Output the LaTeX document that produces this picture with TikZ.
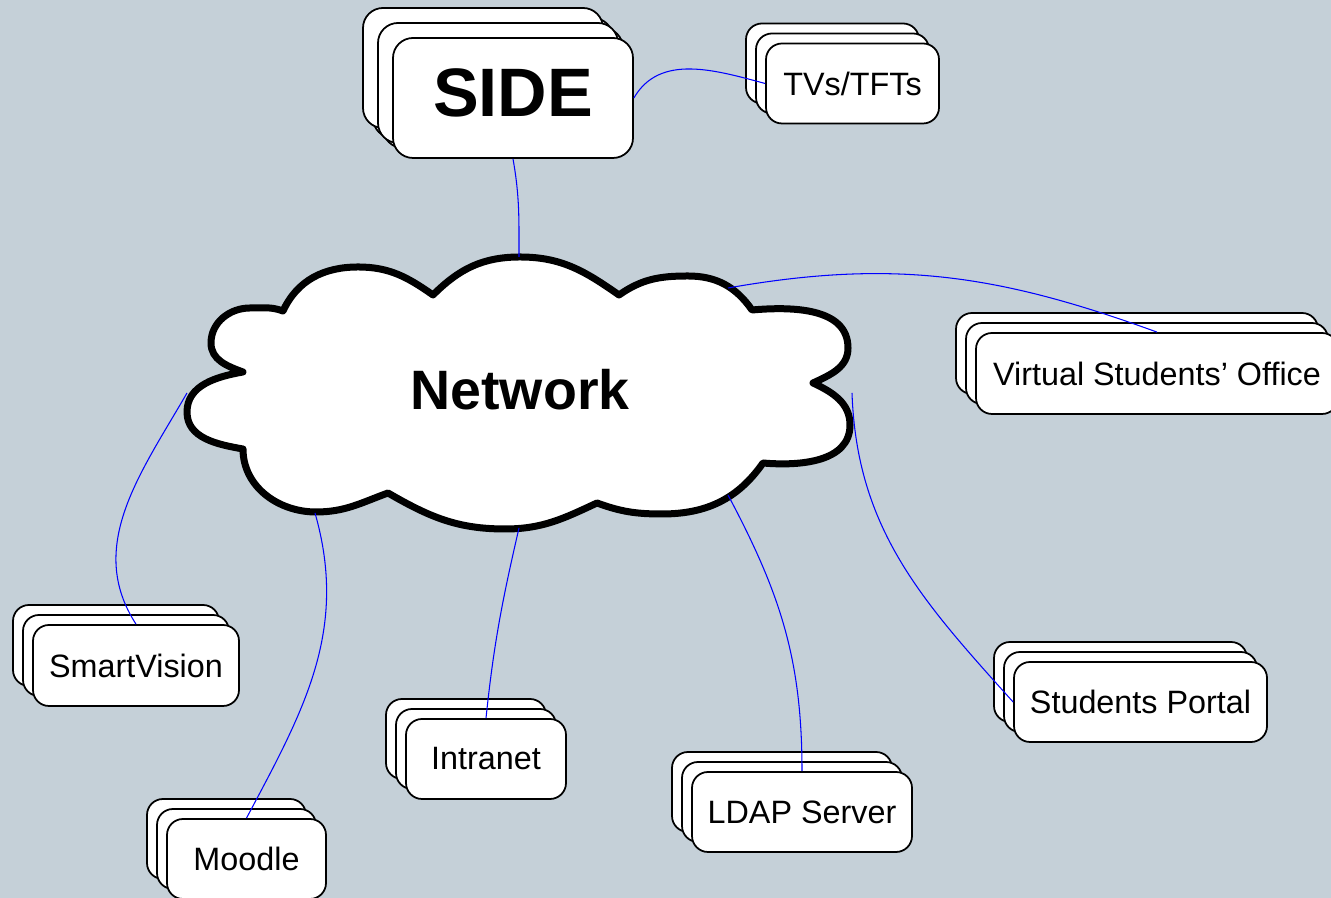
\documentclass[tikz,border=0pt]{standalone}
\usepackage{fontspec}
\setmainfont{Liberation Sans}
\usetikzlibrary{shadows}
\definecolor{bgblue}{HTML}{C5D0D8}
\definecolor{linkblue}{HTML}{0000FF}

\begin{document}
\begin{tikzpicture}[x=0.2mm,y=0.2mm,
  stack/.style 2 args={
    copy shadow={shadow xshift=-#2,shadow yshift=#2,draw=black,line width=1pt,fill=white},
    copy shadow={shadow xshift=-#1,shadow yshift=#1,draw=black,line width=1pt,fill=white}},
  app/.style={draw,line width=1pt,fill=white,rounded corners=3.2mm,inner sep=0pt,
    minimum height=16mm,font=\fontsize{18.4}{22}\selectfont,stack={2mm}{4mm}},
  link/.style={draw=linkblue,line width=0.6pt}]
\useasboundingbox (0,0) rectangle (1331,898);
\fill[bgblue] (0,0) rectangle (1331,898);

% the cloud
\draw[line width=1.4mm,line join=round,fill=white]
  (243,526) to[out=160,in=-90] (211,555) to[out=90,in=180] (250,590) to[out=0,in=160] (283,587)
  to[out=65,in=180] (358,631) to[out=0,in=145] (433,603)
  to[out=45,in=180] (520,641) to[out=0,in=145] (619,603)
  to[out=35,in=180] (688,622) to[out=0,in=125] (752,588)
  to[out=5,in=90] (848,550) to[out=-90,in=25] (813,515)
  to[out=-25,in=90] (850,473) to[out=-90,in=-5] (763,435)
  to[out=-125,in=0] (662,384) to[out=180,in=-20] (597,395)
  to[out=-155,in=0] (505,369) to[out=180,in=-30] (388,405)
  to[out=-160,in=0] (316,386) to[out=180,in=-90] (243,449)
  to[out=170,in=-90] (187,486) to[out=90,in=190] (243,526) -- cycle;
\node[font=\fontsize{31.6}{36}\selectfont\bfseries] (net) at (520,508) {Network};
\coordinate (netN) at (519,641);
\coordinate (netNE) at (728,610);
\coordinate (netE) at (852,505);
\coordinate (netSE) at (728,403);
\coordinate (netS) at (519,370);
\coordinate (netSW) at (315,385);
\coordinate (netW) at (187,505);

% systems
\node[app,stack={3mm}{6mm},rounded corners=4mm,minimum width=48mm,minimum height=24mm,
  text depth=2mm,font=\fontsize{39}{45}\selectfont\bfseries] (side) at (513,800) {SIDE};
\node[app,minimum width=34.6mm] (tvs) at (852.5,814.5) {TVs/TFTs};
\node[app,minimum width=72.4mm,minimum height=16.2mm] (vso) at (1157,524.5) {Virtual Students’ Office};
\node[app,minimum width=41.2mm,minimum height=16.2mm] (smart) at (136,232.5) {SmartVision};
\node[app,minimum width=31.8mm] (moodle) at (246.5,39) {Moodle};
\node[app,minimum width=32mm] (intranet) at (486,139) {Intranet};
\node[app,minimum width=44mm] (ldap) at (802,86) {LDAP Server};
\node[app,minimum width=50.6mm] (portal) at (1140.5,196) {Students Portal};

% links
\draw[link] (side.south) to[out=-80,in=90] (netN);
\draw[link] (side.east) to[out=60,in=165] (tvs.west);
\draw[link] (netNE) to[out=10,in=160] (vso.north);
\draw[link] (netE) to[out=-88,in=132] (portal.west);
\draw[link] (netSE) to[out=-62,in=90] (ldap.north);
\draw[link] (netS) to[out=-103,in=84] (intranet.north);
\draw[link] (netSW) to[out=-74,in=62] (moodle.north);
\draw[link] (netW) to[out=-120,in=123] (smart.north);
\end{tikzpicture}
\end{document}
